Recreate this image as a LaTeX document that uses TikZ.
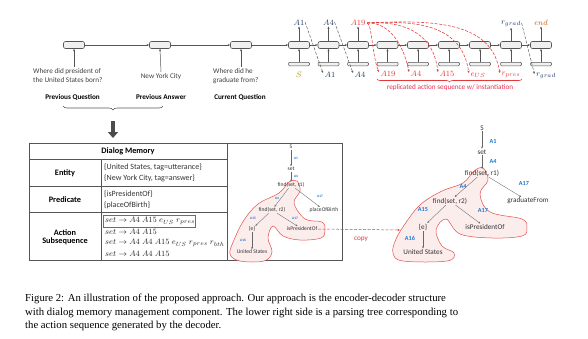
\documentclass[tikz,border=0pt]{standalone}
\usepackage{fontspec}
\setmainfont{Liberation Serif}
\setsansfont{Carlito}
\usepackage{amsmath}
\usetikzlibrary{arrows.meta,decorations.pathreplacing,calc}
\definecolor{navy}{HTML}{1F3864}
\definecolor{gold}{HTML}{BF8F00}
\definecolor{ornge}{HTML}{C55A11}
\definecolor{rred}{HTML}{E03A3A}
\definecolor{lblue}{HTML}{1F78D1}
\definecolor{linegray}{HTML}{555555}
\begin{document}
\begin{tikzpicture}[x=1pt,y=-1pt,
  cellbox/.style={draw=linegray,fill=gray!12,rounded corners=2pt,minimum width=21pt,minimum height=7pt,inner sep=0pt,line width=0.6pt},
  inbox/.style={draw=linegray,fill=gray!12,rounded corners=1pt,minimum width=21pt,minimum height=3.5pt,inner sep=0pt,line width=0.5pt},
  arr/.style={-{Stealth[length=2.5pt,width=2pt]},draw=linegray,line width=0.5pt},
  dasharr/.style={-{Stealth[length=2.5pt,width=2pt]},draw=linegray,dashed,dash pattern=on 3pt off 1.5pt,line width=0.45pt},
  redarr/.style={-{Stealth[length=2.5pt,width=2.2pt]},draw=rred,dash pattern=on 3pt off 1.5pt,line width=0.55pt},
  lab/.style={inner sep=0.5pt,font=\fontsize{8}{8}\selectfont},
  enc/.style={font=\sffamily\fontsize{7.2}{8.8}\selectfont,text=black!75,align=left,inner sep=1pt},
  encl/.style={font=\sffamily\bfseries\fontsize{7.2}{8}\selectfont,inner sep=1pt},
  tab/.style={font=\sffamily\fontsize{8}{10.5}\selectfont,text=black!80,inner sep=1pt},
  tabb/.style={font=\sffamily\bfseries\fontsize{8.3}{10}\selectfont,inner sep=1pt,align=center},
  act/.style={font=\fontsize{8.5}{10}\selectfont,inner sep=1pt,anchor=west,text=black!85},
  bt/.style={font=\sffamily\fontsize{5.6}{6}\selectfont,inner sep=0.6pt,text=black!80},
  bl/.style={font=\sffamily\bfseries\fontsize{3.5}{3.5}\selectfont,text=lblue,inner sep=0pt},
  rt/.style={font=\sffamily\fontsize{7.2}{8}\selectfont,inner sep=0.8pt,text=black!80},
  rl/.style={font=\sffamily\bfseries\fontsize{6.2}{7}\selectfont,text=lblue,inner sep=0pt},
  tarr/.style={-{Stealth[length=2.2pt,width=1.8pt]},draw=gray!80!black,line width=0.35pt},
  blob/.style={draw=rred!90,fill=rred!9,line width=0.5pt},
  capt/.style={font=\fontsize{10.72}{13}\selectfont,anchor=base west,inner sep=0pt}
]
\useasboundingbox (0,0) rectangle (588,338);

% ---------------- encoder ----------------
\node[cellbox] (e1) at (74,45) {};
\node[cellbox] (e2) at (160,45) {};
\node[cellbox] (e3) at (241,45) {};
\node[enc,anchor=north west] (q1) at (32,67) {Where did president of\\the United States born?};
\node[enc,anchor=north] (q2) at (161,72) {New York City};
\node[enc,anchor=north west] (q3) at (212,67) {Where did he\\graduate from?};
\draw[arr] (q1.north -| e1) -- (e1.south);
\draw[arr] (q2.north) -- (e2.south);
\draw[arr] (q3.north -| e3) -- (e3.south);
\node[encl] (l1) at (72.5,97) {Previous Question};
\node[encl] (l2) at (161,97) {Previous Answer};
\node[encl] (l3) at (240,97) {Current Question};

\coordinate (bra) at (63,106);
\coordinate (brb) at (163,106);
\draw[linegray,line width=0.6pt,decorate,decoration={brace,mirror,amplitude=4pt}] (bra) -- (brb);
\coordinate (ba) at (113,121);
\coordinate (bb) at (113,138);
\draw[-{Triangle[width=10pt,length=6pt]},line width=4.5pt,draw=black!70] (ba) -- (bb);

% ---------------- decoder ----------------
\foreach \i/\x in {1/299,2/328.5,3/358,4/387.5,5/418,6/449,7/480,8/511,9/541}{
  \node[cellbox] (d\i) at (\x,45) {};
  \node[inbox] (i\i) at (\x,64) {};
  \draw[arr] (i\i.north) -- (d\i.south);
}
\draw[arr] (e1.east) -- (e2.west);
\draw[arr] (e2.east) -- (e3.west);
\draw[arr] (e3.east) -- (d1.west);
\foreach \i/\j in {1/2,2/3,3/4,4/5,5/6,6/7,7/8,8/9}{\draw[arr] (d\i.east) -- (d\j.west);}

% output labels
\node[lab,text=navy] (o1) at (299,23) {$A1$};
\node[lab,text=navy] (o2) at (328.5,23) {$A4$};
\node[lab,text=rred] (o3) at (358,23) {$A19$};
\node[lab,text=navy] (o8) at (511,24) {$r_{grad}$};
\node[lab,text=ornge] (o9) at (541,23) {$end$};
\foreach \i in {1,2,3,8,9}{\draw[arr] (d\i.north) -- (o\i.south);}

% input labels
\node[lab,text=gold] (n1) at (299,75) {$S$};
\node[lab,text=navy] (n2) at (330,75) {$A1$};
\node[lab,text=navy] (n3) at (360,75) {$A4$};
\node[lab,text=rred] (n4) at (388,74) {$A19$};
\node[lab,text=rred] (n5) at (416,74) {$A4$};
\node[lab,text=rred] (n6) at (447,74) {$A15$};
\node[lab,text=rred] (n7) at (478,75) {$e_{US}$};
\node[lab,text=rred] (n8) at (511,75) {$r_{pres}$};
\node[lab,text=navy] (n9) at (546,76) {$r_{grad}$};

% copy-back dashed arrows
\draw[dasharr] ($(o1.east)+(0,-1)$) -- ($(n2.west)+(-1,-2)$);
\draw[dasharr] ($(o2.east)+(0,-1)$) -- ($(n3.west)+(-1,-2)$);
\draw[dasharr] ($(o8.east)+(0,-1)$) -- ($(n9.west)+(-1,-2)$);

% replicated dashed red arrows
\coordinate (rs) at ($(o3.east)+(1,0)$);
\draw[redarr] (rs) .. controls (372,24) and (372,55) .. ($(n4.west)+(-1,-2)$);
\draw[redarr] (rs) .. controls (385,22) and (402,38) .. ($(n5.west)+(-1,-2)$);
\draw[redarr] (rs) .. controls (400,21) and (433,30) .. ($(n6.west)+(-1,-2)$);
\draw[redarr] (rs) .. controls (420,20) and (462,26) .. ($(n7.west)+(-1,-2)$);
\draw[redarr] (rs) .. controls (440,19) and (492,24) .. ($(n8.west)+(-1,-2)$);

\coordinate (rba) at (377,79);
\coordinate (rbb) at (522,79);
\draw[rred,line width=0.6pt,decorate,decoration={brace,mirror,amplitude=3pt}] (rba) -- (rbb);
\node[font=\sffamily\fontsize{7.2}{8}\selectfont,text=rred!85!magenta,inner sep=0pt] (rtxt) at (450,88) {replicated action sequence w/ instantiation};

% ---------------- dialog memory table ----------------
\coordinate (t1) at (29,143);
\coordinate (t2) at (342,260);
\draw[linegray,line width=0.7pt] (t1) rectangle (t2);
\coordinate (va) at (227,143);
\coordinate (vb) at (227,260);
\draw[linegray,line width=0.7pt] (va) -- (vb);
\coordinate (ca) at (101,159);
\coordinate (cb) at (101,260);
\draw[linegray,line width=0.7pt] (ca) -- (cb);
\foreach \yy in {159,186,212}{\draw[linegray,line width=0.7pt] (29,\yy) -- (227,\yy);}

\node[tabb] (hdr) at (128,151) {Dialog Memory};
\node[tabb] (ent) at (65,173) {Entity};
\node[tabb] (pred) at (65,199.5) {Predicate};
\node[tabb] (acts) at (65,237) {Action\\[-1.5pt]Subsequence};
\node[tab,anchor=west] (en1) at (103,167) {\{United States, tag=utterance\}};
\node[tab,anchor=west] (en2) at (103,178) {\{New York City, tag=answer\}};
\node[tab,anchor=west] (pr1) at (103,194) {\{isPresidentOf\}};
\node[tab,anchor=west] (pr2) at (103,205) {\{placeOfBirth\}};
\node[act] (ac1) at (104,221) {$set\rightarrow A4\ A15\ e_{US}\ r_{pres}$};
\node[act] (ac2) at (104,232) {$set\rightarrow A4\ A15$};
\node[act] (ac3) at (104,243) {$set\rightarrow A4\ A4\ A15\ e_{US}\ r_{pres}\ r_{bth}$};
\node[act] (ac4) at (104,254) {$set\rightarrow A4\ A4\ A15$};
\draw[rred,line width=0.8pt] (103,215) rectangle (195,227.5);

% ---------------- small tree in box ----------------
\draw[blob] plot[smooth cycle,tension=0.6] coordinates {(297,181) (300,191) (294,203) (305,219) (322,222) (325,230) (321,238) (300,240) (283,236) (273,226) (268,238) (272,252) (264,261) (240,261) (230,254) (234,240) (244,220) (258,204) (279,193) (289,182)};
\node[bt] (bS) at (291,147) {S};
\node[bt] (bset) at (291,169) {set};
\node[bt] (bf1) at (291,185) {find(set, r1)};
\node[bt] (bf2) at (272,210) {find(set, r2)};
\node[bt] (bpob) at (324,210) {placeOfBirth};
\node[bt] (be) at (252,229) {\{e\}};
\node[bt] (bip) at (302,229) {isPresidentOf};
\node[bt] (bus) at (252,252) {United States};
\draw[tarr] (bS) -- (bset);
\draw[tarr] (bset) -- (bf1);
\draw[tarr] (bf1) -- (bf2);
\draw[tarr] (bf1) -- (bpob);
\draw[tarr] (bf2) -- (be);
\draw[tarr] (bf2) -- (bip);
\draw[tarr] (be) -- (bus);
\node[bl] (bl1) at (296,158) {A1};
\node[bl] (bl2) at (296,176) {A4};
\node[bl] (bl3) at (277,198) {A4};
\node[bl] (bl4) at (320,196) {A17};
\node[bl] (bl5) at (253,218) {A15};
\node[bl] (bl6) at (295,218) {A17};
\node[bl] (bl7) at (243,240) {A16};

% ---------------- right tree ----------------
\draw[blob] plot[smooth cycle,tension=0.6] coordinates {(483,168) (488,180) (480,194) (490,212) (522,219) (527,228) (522,236) (492,238) (460,234) (446,219) (436,230) (442,246) (454,253) (447,261) (403,261) (393,253) (396,239) (407,221) (421,204) (442,191) (463,183) (474,171)};
\node[rt] (rS) at (482,128) {S};
\node[rt] (rset) at (482,152) {set};
\node[rt] (rf1) at (482,173) {find(set, r1)};
\node[rt] (rf2) at (450,201) {find(set, r2)};
\node[rt] (rgf) at (528,201) {graduateFrom};
\node[rt] (re) at (423,227) {\{e\}};
\node[rt] (rip) at (485,227) {isPresidentOf};
\node[rt] (rus) at (423,252) {United States};
\draw[tarr] (rS) -- (rset);
\draw[tarr] (rset) -- (rf1);
\draw[tarr] (rf1) -- (rf2);
\draw[tarr] (rf1) -- (rgf);
\draw[tarr] (rf2) -- (re);
\draw[tarr] (rf2) -- (rip);
\draw[tarr] (re) -- (rus);
\node[rl] (rl1) at (493,141) {A1};
\node[rl] (rl2) at (493,161) {A4};
\node[rl] (rl3) at (463,186) {A4};
\node[rl] (rl4) at (524,183) {A17};
\node[rl] (rl5) at (423,210) {A15};
\node[rl] (rl6) at (483,210) {A17};
\node[rl] (rl7) at (410,238) {A16};

% copy arrow
\draw[redarr,line width=0.5pt] (bip.east) -- ($(re.west)+(-18,3)$);
\node[font=\sffamily\fontsize{7.2}{8}\selectfont,text=rred,inner sep=0pt] (cpy) at (361,239) {copy};

% ---------------- caption ----------------
\node[capt] (c1) at (25,301.5) {Figure 2: An illustration of the proposed approach. Our approach is the encoder-decoder structure};
\node[capt] (c2) at (25,315) {with dialog memory management component. The lower right side is a parsing tree corresponding to};
\node[capt] (c3) at (25,328.3) {the action sequence generated by the decoder.};
\end{tikzpicture}
\end{document}
